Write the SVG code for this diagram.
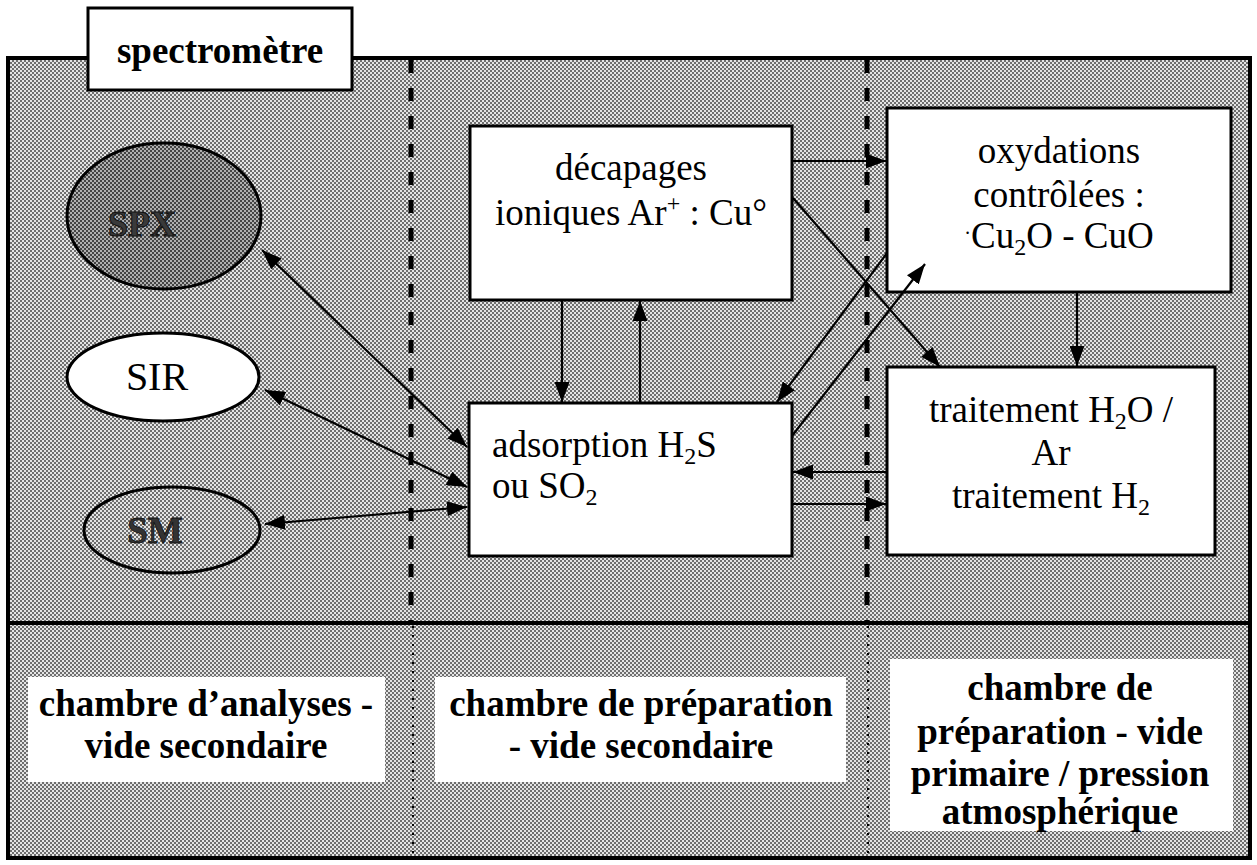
<svg xmlns="http://www.w3.org/2000/svg" width="1257" height="865" viewBox="0 0 1257 865">
<style>
.t{font-family:"Liberation Serif","Times New Roman",serif;font-size:37px;fill:#000}
.b{font-weight:bold}
.box{fill:#fff;stroke:#000;stroke-width:3}
.lbl{fill:#fff;stroke:none}
.c{stroke:#000;stroke-width:2.2;fill:none}
.sub{font-size:24px}
.dash{stroke:#000;stroke-width:5;stroke-dasharray:13 15}
.dot{stroke:#000;stroke-width:2;stroke-dasharray:2 7}
</style>
<defs>
<pattern id="dither" width="4" height="4" patternUnits="userSpaceOnUse">
<rect width="4" height="4" fill="#e4e4e4"/>
<rect x="0" y="0" width="2" height="2" fill="#6e6e6e"/>
<rect x="2" y="2" width="2" height="2" fill="#6e6e6e"/>
</pattern>
<pattern id="dark" width="4" height="4" patternUnits="userSpaceOnUse">
<rect width="4" height="4" fill="#b0b0b0"/>
<rect x="0" y="0" width="2" height="2" fill="#444"/>
<rect x="2" y="2" width="2" height="2" fill="#444"/>
</pattern>
<marker id="ah" markerUnits="userSpaceOnUse" markerWidth="20" markerHeight="15" refX="20" refY="7.5" orient="auto-start-reverse" viewBox="0 0 20 15">
<path d="M0,0 L20,7.5 L0,15 z" fill="#000"/>
</marker>
</defs>

<g id="frame">
<rect x="8" y="58" width="1242" height="800" fill="url(#dither)" stroke="#000" stroke-width="4"/>
<line x1="8" y1="623" x2="1250" y2="623" stroke="#000" stroke-width="4"/>
<line class="dash" x1="411" y1="60" x2="411" y2="621"/>
<line class="dash" x1="867" y1="60" x2="867" y2="621"/>
<line class="dot" x1="413" y1="626" x2="413" y2="856"/>
<line class="dot" x1="868" y1="626" x2="868" y2="856"/>
</g>

<g id="spectrometre">
<rect class="box" x="88" y="8" width="264" height="82"/>
<text class="t b" x="220" y="63" text-anchor="middle">spectromètre</text>
</g>

<g id="spx">
<ellipse cx="164" cy="216" rx="97" ry="73" fill="url(#dark)" stroke="#000" stroke-width="3"/>
<text class="t b" x="108" y="236" style="font-size:36px;fill:#3a3a3a;stroke:#111;stroke-width:1">SPX</text>
</g>

<g id="sir">
<ellipse cx="163" cy="377" rx="96" ry="44" fill="#fff" stroke="#000" stroke-width="3"/>
<text class="t" x="157" y="390" text-anchor="middle" style="font-size:40px">SIR</text>
</g>

<g id="sm">
<ellipse cx="172" cy="530" rx="88" ry="43" fill="url(#dither)" stroke="#000" stroke-width="3"/>
<text class="t b" x="155" y="543" text-anchor="middle" style="font-size:37px;fill:#333;stroke:#111;stroke-width:0.8">SM</text>
</g>

<g id="decapages">
<rect class="box" x="470" y="126" width="322" height="174"/>
<text class="t" x="631" y="180" text-anchor="middle">décapages</text>
<text class="t" x="631" y="225" text-anchor="middle">ioniques Ar<tspan class="sub" dy="-14">+</tspan><tspan dy="14"> : Cu°</tspan></text>
</g>

<g id="oxydations">
<rect class="box" x="887" y="108" width="344" height="184"/>
<text class="t" x="1059" y="163" text-anchor="middle">oxydations</text>
<text class="t" x="1059" y="207" text-anchor="middle">contrôlées :</text>
<text class="t" x="1059" y="248" text-anchor="middle"><tspan style="font-size:20px" dy="-8">·</tspan><tspan dy="8">Cu</tspan><tspan class="sub" dy="7">2</tspan><tspan dy="-7">O - CuO</tspan></text>
</g>

<g id="adsorption">
<rect class="box" x="469" y="403" width="323" height="153"/>
<text class="t" x="492" y="457">adsorption H<tspan class="sub" dy="7">2</tspan><tspan dy="-7">S</tspan></text>
<text class="t" x="492" y="498">ou SO<tspan class="sub" dy="7">2</tspan></text>
</g>

<g id="traitement">
<rect class="box" x="887" y="367" width="328" height="188"/>
<text class="t" x="1051" y="422" text-anchor="middle">traitement H<tspan class="sub" dy="7">2</tspan><tspan dy="-7">O /</tspan></text>
<text class="t" x="1051" y="465" text-anchor="middle">Ar</text>
<text class="t" x="1051" y="508" text-anchor="middle">traitement H<tspan class="sub" dy="7">2</tspan></text>
</g>

<g id="label-analyses">
<rect class="lbl" x="28" y="677" width="357" height="105"/>
<text class="t b" x="206" y="716" text-anchor="middle">chambre d’analyses -</text>
<text class="t b" x="206" y="758" text-anchor="middle">vide secondaire</text>
</g>

<g id="label-preparation">
<rect class="lbl" x="435" y="677" width="411" height="105"/>
<text class="t b" x="641" y="716" text-anchor="middle">chambre de préparation</text>
<text class="t b" x="641" y="758" text-anchor="middle">- vide secondaire</text>
</g>

<g id="label-primaire">
<rect class="lbl" x="890" y="659" width="343" height="172"/>
<text class="t b" x="1060" y="700" text-anchor="middle">chambre de</text>
<text class="t b" x="1060" y="744" text-anchor="middle">préparation - vide</text>
<text class="t b" x="1060" y="786" text-anchor="middle">primaire / pression</text>
<text class="t b" x="1060" y="824" text-anchor="middle">atmosphérique</text>
</g>

<g id="connectors">
<path class="c" d="M792,161 L886,161" marker-end="url(#ah)"/>
<path class="c" d="M793,198 L940,367" marker-end="url(#ah)"/>
<path class="c" d="M887,253 L777,402" marker-end="url(#ah)"/>
<path class="c" d="M792,436 L925,264" marker-end="url(#ah)"/>
<path class="c" d="M562,300 L562,402" marker-end="url(#ah)"/>
<path class="c" d="M640,402 L640,301" marker-end="url(#ah)"/>
<path class="c" d="M1077,292 L1077,366" marker-end="url(#ah)"/>
<path class="c" d="M887,472 L793,472" marker-end="url(#ah)"/>
<path class="c" d="M793,504 L886,504" marker-end="url(#ah)"/>
<path class="c" d="M262,250 L467,447" marker-start="url(#ah)" marker-end="url(#ah)"/>
<path class="c" d="M265,390 L467,487" marker-start="url(#ah)" marker-end="url(#ah)"/>
<path class="c" d="M265,524 L467,507" marker-start="url(#ah)" marker-end="url(#ah)"/>
</g>
</svg>
